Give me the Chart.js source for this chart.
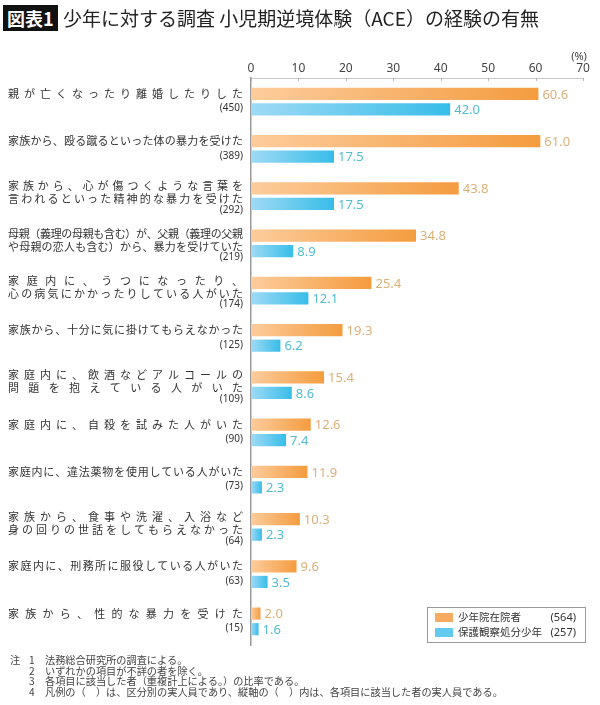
<!DOCTYPE html>
<html lang="ja">
<head>
<meta charset="utf-8">
<title>少年に対する調査 小児期逆境体験（ACE）の経験の有無</title>
<script src="https://cdn.jsdelivr.net/npm/chart.js@4.4.1/dist/chart.umd.min.js"></script>
<style>
  body { margin: 0; background: #fff; font-family: "Noto Sans CJK JP", "Noto Sans", sans-serif; }
  #page { position: relative; width: 600px; height: 705px; overflow: hidden; }
  #chart-wrap { position: absolute; left: 0; top: 0; width: 600px; height: 705px; }
  #badge { position: absolute; left: 3px; top: 5px; height: 26px; line-height: 26px; padding: 0 4px;
           background: #111; color: #fff; font-size: 18px; font-weight: bold; }
  #title { position: absolute; left: 63px; top: 4px; height: 28px; line-height: 28px;
           font-size: 19px; color: #222; white-space: nowrap; }
  .note { position: absolute; font-size: 10.2px; line-height: 11px; color: #444; white-space: nowrap; }
</style>
</head>
<body>
<div id="page">
  <div id="chart-wrap"><canvas id="aceChart"></canvas></div>
  <div id="badge">図表1</div>
  <div id="title">少年に対する調査 小児期逆境体験（ACE）の経験の有無</div>
  <div id="notes"></div>
</div>
<script>
// Data
const categories = [
    ['親が亡くなったり離婚したりした'],
    ['家族から、殴る蹴るといった体の暴力を受けた'],
    ['家族から、心が傷つくような言葉を', '言われるといった精神的な暴力を受けた'],
    ['母親（義理の母親も含む）が、父親（義理の父親', 'や母親の恋人も含む）から、暴力を受けていた'],
    ['家庭内に、うつになったり、', '心の病気にかかったりしている人がいた'],
    ['家族から、十分に気に掛けてもらえなかった'],
    ['家庭内に、飲酒などアルコールの', '問題を抱えている人がいた'],
    ['家庭内に、自殺を試みた人がいた'],
    ['家庭内に、違法薬物を使用している人がいた'],
    ['家族から、食事や洗濯、入浴など', '身の回りの世話をしてもらえなかった'],
    ['家庭内に、刑務所に服役している人がいた'],
    ['家族から、性的な暴力を受けた']
];
const counts = [450, 389, 292, 219, 174, 125, 109, 90, 73, 64, 63, 15];
const reformatoryValues = [60.6, 61.0, 43.8, 34.8, 25.4, 19.3, 15.4, 12.6, 11.9, 10.3, 9.6, 2.0];
const probationValues = [42.0, 17.5, 17.5, 8.9, 12.1, 6.2, 8.6, 7.4, 2.3, 2.3, 3.5, 1.6];
const seriesNames = ['少年院在院者', '保護観察処分少年'];
const seriesTotals = [564, 257];
const notes = [
    ['注', '1', '法務総合研究所の調査による。'],
    ['', '2', 'いずれかの項目が不詳の者を除く。'],
    ['', '3', '各項目に該当した者（重複計上による。）の比率である。'],
    ['', '4', '凡例の（　）は、区分別の実人員であり、縦軸の（　）内は、各項目に該当した者の実人員である。']
];

const JP = '"Noto Sans CJK JP", "Noto Sans", sans-serif';
const NUM = '"Noto Sans", "Lato", sans-serif';

// Notes under the chart
const notesBox = document.getElementById('notes');
notes.forEach((n, i) => {
    const top = 654 + i * 10.5;
    [[10, n[0]], [29, n[1]], [45, n[2]]].forEach(([left, text]) => {
        if (!text) return;
        const d = document.createElement('div');
        d.className = 'note';
        d.style.left = left + 'px';
        d.style.top = top + 'px';
        d.textContent = text;
        notesBox.appendChild(d);
    });
});

// Horizontal gradient for each bar, light at zero, darker at bar end
function barFill(ctx, light, dark) {
    const chart = ctx.chart;
    const area = chart.chartArea;
    if (!area || ctx.type !== 'data') return dark;
    const end = chart.scales.x.getPixelForValue(ctx.raw);
    const g = chart.ctx.createLinearGradient(area.left, 0, Math.max(end, area.left + 1), 0);
    g.addColorStop(0, light);
    g.addColorStop(1, dark);
    return g;
}

// Draw text stretched so that it fills [x0, x1]
function drawJustified(c, text, x0, x1, y) {
    const chars = Array.from(text);
    const widths = chars.map(ch => c.measureText(ch).width);
    const total = widths.reduce((a, b) => a + b, 0);
    const gap = chars.length > 1 ? (x1 - x0 - total) / (chars.length - 1) : 0;
    let x = x0;
    c.textAlign = 'left';
    chars.forEach((ch, i) => {
        c.fillText(ch, x, y);
        x += widths[i] + gap;
    });
}

const decorPlugin = {
    id: 'decor',
    afterDraw(chart) {
        const c = chart.ctx;
        const area = chart.chartArea;
        const xs = chart.scales.x;
        const ys = chart.scales.y;
        c.save();

        // small tick marks below the top axis line
        c.strokeStyle = '#b5b5b5';
        c.lineWidth = 1;
        xs.ticks.forEach(t => {
            const px = Math.round(xs.getPixelForValue(t.value)) + 0.5;
            c.beginPath();
            c.moveTo(px, area.top);
            c.lineTo(px, area.top + 3);
            c.stroke();
        });

        // unit
        c.fillStyle = '#444';
        c.font = '11px ' + NUM;
        c.textAlign = 'center';
        c.textBaseline = 'middle';
        c.fillText('(%)', xs.right - 4, 57);

        // category labels and counts
        c.fillStyle = '#333';
        categories.forEach((lines, i) => {
            const cy = ys.getPixelForValue(i);
            c.font = '11px ' + JP;
            c.textBaseline = 'middle';
            if (lines.length === 1) {
                drawJustified(c, lines[0], 8, 243, cy - 8);
            } else {
                drawJustified(c, lines[0], 8, 243, cy - 10);
                drawJustified(c, lines[1], 8, 243, cy + 3);
            }
            c.font = '10px ' + NUM;
            c.textAlign = 'right';
            c.fillText('(' + counts[i] + ')', 243, lines.length === 1 ? cy + 7 : cy + 14);
        });

        // value labels at the end of each bar
        const valueColors = ['#dcb078', '#52bcd2'];
        c.font = '13px ' + NUM;
        c.textAlign = 'left';
        c.textBaseline = 'middle';
        chart.data.datasets.forEach((ds, di) => {
            const meta = chart.getDatasetMeta(di);
            c.fillStyle = valueColors[di];
            meta.data.forEach((bar, i) => {
                c.fillText(ds.data[i].toFixed(1), bar.x + 4, bar.y + 1);
            });
        });

        // legend box
        const lx = 427, ly = 607, lw = 158, lh = 35;
        c.strokeStyle = '#9a9a9a';
        c.lineWidth = 1;
        c.strokeRect(lx + 0.5, ly + 0.5, lw, lh);
        const swatches = ['#f7aa62', '#62c9ef'];
        seriesNames.forEach((name, i) => {
            const y = ly + 10.5 + i * 15;
            c.fillStyle = swatches[i];
            c.fillRect(lx + 8, y - 4.5, 18, 9);
            c.fillStyle = '#333';
            c.font = '10.5px ' + JP;
            c.textAlign = 'left';
            c.fillText(name, lx + 31, y);
            c.font = '11px ' + NUM;
            c.textAlign = 'right';
            c.fillText('(' + seriesTotals[i] + ')', lx + lw - 9, y);
        });

        c.restore();
    }
};

const ctx = document.getElementById('aceChart').getContext('2d');
new Chart(ctx, {
    type: 'bar',
    data: {
        labels: categories.map(l => l.join('')),
        datasets: [
            {
                label: seriesNames[0],
                data: reformatoryValues,
                backgroundColor: c => barFill(c, '#fdcc9c', '#f49c3f'),
                categoryPercentage: 0.66,
                barPercentage: 0.78
            },
            {
                label: seriesNames[1],
                data: probationValues,
                backgroundColor: c => barFill(c, '#9fdaf5', '#37bde9'),
                categoryPercentage: 0.66,
                barPercentage: 0.78
            }
        ]
    },
    options: {
        indexAxis: 'y',
        responsive: true,
        maintainAspectRatio: false,
        animation: false,
        layout: { padding: { top: 0, right: 17, bottom: 60, left: 0 } },
        plugins: {
            legend: { display: false },
            tooltip: { enabled: false }
        },
        scales: {
            x: {
                position: 'top',
                min: 0,
                max: 70,
                ticks: { stepSize: 10, color: '#444', font: { family: NUM, size: 12 }, padding: 2 },
                grid: { display: false, drawTicks: false },
                border: { display: true, color: '#c8c8c8', width: 1 },
                afterFit: s => { s.height = 78; }
            },
            y: {
                ticks: { display: false },
                grid: { display: false, drawTicks: false },
                border: { display: true, color: '#9a9a9a', width: 1.5 },
                afterFit: s => { s.width = 251; }
            }
        }
    },
    plugins: [decorPlugin]
});
</script>
</body>
</html>
